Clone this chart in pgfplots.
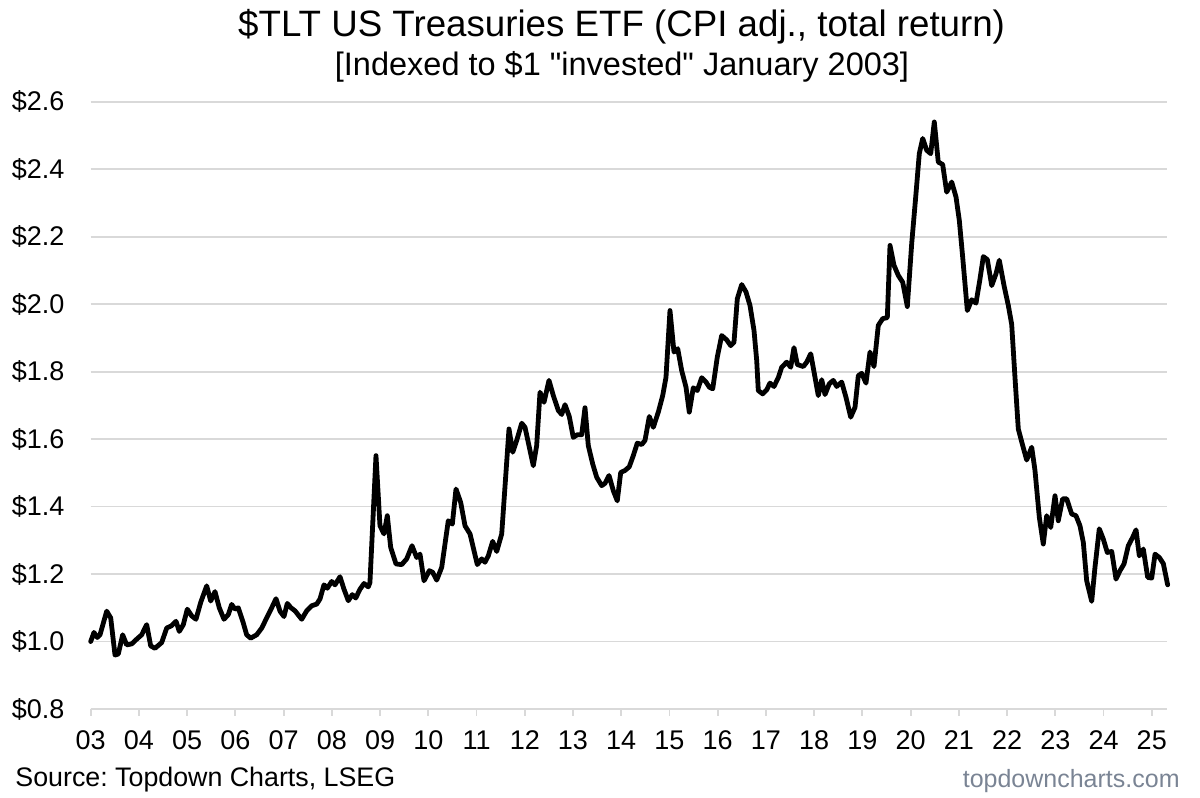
\documentclass[border=0pt]{standalone}
\usepackage{fontspec}
\setmainfont{Liberation Sans}[Ligatures=TeXOff]
\usepackage{pgfplots}
\pgfplotsset{compat=1.18}
\definecolor{gridgray}{RGB}{217,217,217}
\definecolor{wmark}{RGB}{122,132,148}
\frenchspacing
\begin{document}
\begin{tikzpicture}
\useasboundingbox (0,0) rectangle (600pt,-399pt);
\begin{axis}[
  at={(45.35pt,-354.5pt)}, anchor=south west,
  scale only axis, width=538pt, height=303.65pt,
  xmin=3, xmax=25.31, ymin=0.8, ymax=2.6,
  axis x line*=bottom, axis y line*=left,
  x axis line style={draw=gridgray, line width=0.9pt, -},
  y axis line style={draw=none, -},
  xtick={3,4,5,6,7,8,9,10,11,12,13,14,15,16,17,18,19,20,21,22,23,24,25},
  xticklabels={03,04,05,06,07,08,09,10,11,12,13,14,15,16,17,18,19,20,21,22,23,24,25},
  ytick={0.8,1,1.2,1.4,1.6,1.8,2,2.2,2.4,2.6},
  yticklabels={\$0.8,\$1.0,\$1.2,\$1.4,\$1.6,\$1.8,\$2.0,\$2.2,\$2.4,\$2.6},
  ymajorgrids, grid style={draw=gridgray, line width=0.9pt},
  y tick style={draw=none},
  x tick style={draw=gridgray, line width=0.9pt},
  tick align=outside, major tick length=3.3pt,
  ticklabel style={font=\fontsize{13.5}{16}\selectfont},
  xticklabel style={anchor=north, inner sep=0pt, yshift=-7.5pt},
  yticklabel style={anchor=east, inner sep=0pt, xshift=-9.6pt},
  clip=false,
]
\addplot[black, line width=2.4pt, line join=round, line cap=round] coordinates {
(3.000,1.000) (3.068,1.027) (3.137,1.012) (3.193,1.020) (3.332,1.090) (3.415,1.070)
(3.504,0.960) (3.572,0.963) (3.663,1.020) (3.746,0.990) (3.850,0.993) (3.954,1.007)
(4.057,1.020) (4.161,1.050) (4.244,0.987) (4.333,0.980) (4.472,0.997) (4.576,1.040)
(4.679,1.047) (4.769,1.060) (4.837,1.030) (4.920,1.050) (5.003,1.096) (5.094,1.076)
(5.183,1.066) (5.281,1.116) (5.405,1.165) (5.488,1.120) (5.577,1.148) (5.666,1.100)
(5.764,1.066) (5.853,1.080) (5.923,1.110) (5.992,1.096) (6.060,1.100) (6.164,1.055)
(6.234,1.020) (6.317,1.010) (6.442,1.020) (6.546,1.040) (6.649,1.070) (6.753,1.100)
(6.842,1.127) (6.925,1.090) (7.008,1.074) (7.076,1.113) (7.153,1.100) (7.236,1.091)
(7.375,1.066) (7.479,1.091) (7.582,1.106) (7.686,1.111) (7.754,1.126) (7.837,1.168)
(7.906,1.158) (7.997,1.178) (8.065,1.168) (8.169,1.192) (8.252,1.155) (8.341,1.121)
(8.424,1.139) (8.495,1.129) (8.584,1.155) (8.667,1.172) (8.756,1.162) (8.790,1.175)
(8.915,1.551) (8.998,1.343) (9.081,1.319) (9.150,1.373) (9.220,1.279) (9.330,1.230)
(9.448,1.228) (9.552,1.245) (9.662,1.284) (9.759,1.249) (9.828,1.259) (9.911,1.180)
(10.021,1.210) (10.091,1.205) (10.174,1.182) (10.278,1.220) (10.414,1.358) (10.498,1.348)
(10.574,1.452) (10.672,1.412) (10.761,1.343) (10.865,1.319) (11.016,1.228) (11.107,1.245)
(11.175,1.235) (11.244,1.254) (11.335,1.297) (11.418,1.267) (11.522,1.319) (11.673,1.630)
(11.750,1.561) (11.833,1.596) (11.937,1.647) (12.005,1.635) (12.094,1.576) (12.177,1.521)
(12.247,1.581) (12.316,1.739) (12.399,1.709) (12.502,1.774) (12.592,1.729) (12.695,1.685)
(12.766,1.673) (12.834,1.702) (12.923,1.667) (13.006,1.605) (13.089,1.613) (13.180,1.613)
(13.249,1.693) (13.317,1.581) (13.409,1.526) (13.491,1.487) (13.595,1.462) (13.664,1.469)
(13.747,1.492) (13.836,1.447) (13.918,1.417) (13.989,1.501) (14.078,1.507) (14.167,1.518)
(14.250,1.551) (14.333,1.588) (14.425,1.584) (14.493,1.596) (14.582,1.667) (14.665,1.635)
(14.769,1.680) (14.860,1.729) (14.928,1.783) (15.011,1.981) (15.094,1.858) (15.171,1.868)
(15.254,1.803) (15.343,1.754) (15.411,1.680) (15.494,1.752) (15.577,1.744) (15.669,1.782)
(15.758,1.769) (15.826,1.754) (15.897,1.749) (15.992,1.843) (16.083,1.907) (16.187,1.894)
(16.270,1.877) (16.338,1.887) (16.407,2.016) (16.498,2.058) (16.587,2.036) (16.670,1.996)
(16.753,1.922) (16.809,1.833) (16.842,1.744) (16.933,1.734) (17.016,1.746) (17.084,1.766)
(17.167,1.756) (17.257,1.782) (17.327,1.813) (17.431,1.828) (17.514,1.813) (17.582,1.871)
(17.651,1.821) (17.775,1.815) (17.846,1.828) (17.929,1.853) (18.018,1.783) (18.086,1.729)
(18.157,1.776) (18.225,1.732) (18.314,1.764) (18.397,1.774) (18.468,1.756) (18.571,1.769)
(18.660,1.724) (18.758,1.665) (18.847,1.694) (18.916,1.788) (18.986,1.795) (19.075,1.766)
(19.158,1.858) (19.241,1.815) (19.330,1.937) (19.421,1.957) (19.517,1.960) (19.573,2.174)
(19.656,2.115) (19.745,2.085) (19.836,2.065) (19.932,1.993) (20.023,2.180) (20.112,2.328)
(20.180,2.446) (20.251,2.491) (20.334,2.456) (20.417,2.446) (20.491,2.540) (20.574,2.421)
(20.665,2.414) (20.748,2.332) (20.852,2.362) (20.941,2.318) (21.010,2.248) (21.080,2.139)
(21.176,1.981) (21.267,2.013) (21.356,2.003) (21.439,2.075) (21.508,2.141) (21.591,2.132)
(21.682,2.055) (21.771,2.090) (21.839,2.130) (21.937,2.055) (22.026,1.996) (22.096,1.940)
(22.164,1.783) (22.233,1.630) (22.324,1.581) (22.407,1.538) (22.511,1.576) (22.579,1.507)
(22.669,1.368) (22.751,1.289) (22.822,1.373) (22.905,1.338) (22.994,1.432) (23.062,1.358)
(23.153,1.423) (23.236,1.423) (23.340,1.378) (23.429,1.373) (23.512,1.343) (23.581,1.294)
(23.651,1.180) (23.755,1.119) (23.823,1.220) (23.912,1.334) (23.995,1.304) (24.078,1.264)
(24.170,1.267) (24.259,1.185) (24.342,1.210) (24.425,1.230) (24.514,1.284) (24.605,1.309)
(24.674,1.331) (24.742,1.254) (24.825,1.274) (24.916,1.190) (24.999,1.188) (25.068,1.259)
(25.157,1.249) (25.240,1.231) (25.330,1.168)
};
\end{axis}
\node[anchor=base, inner sep=0pt, font=\fontsize{18.35}{20}\selectfont] at (310.8pt,-18.4pt) {\$TLT US Treasuries ETF (CPI adj., total return)};
\node[anchor=base, inner sep=0pt, font=\fontsize{16.25}{18}\selectfont] at (311pt,-37.5pt) {[Indexed to \$1 "invested" January 2003]};
\node[anchor=base west, inner sep=0pt, font=\fontsize{13.4}{16}\selectfont] at (7.5pt,-393pt) {Source: Topdown Charts, LSEG};
\node[anchor=base east, inner sep=0pt, text=wmark, font=\fontsize{12.5}{15}\selectfont] at (590pt,-393.5pt) {topdowncharts.com};
\end{tikzpicture}
\end{document}
